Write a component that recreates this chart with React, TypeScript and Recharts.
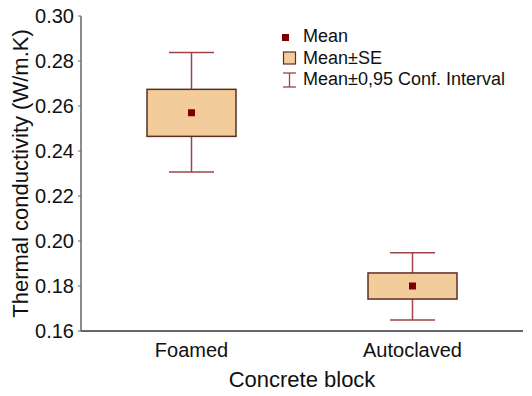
import React from 'react';
import { ComposedChart, Bar, Scatter, XAxis, YAxis, Legend } from 'recharts';

const categories = ['Foamed', 'Autoclaved'];
const means = [0.257, 0.18];
const seLow = [0.2465, 0.1742];
const seHigh = [0.2674, 0.1858];
const ciLow = [0.2307, 0.1649];
const ciHigh = [0.2838, 0.1948];
const yTicks = [0.16, 0.18, 0.2, 0.22, 0.24, 0.26, 0.28, 0.3];
const legendLabels = ['Mean', 'Mean±SE', 'Mean±0,95 Conf. Interval'];

const data = categories.map((c, i) => ({
  category: c,
  mean: means[i],
  se: [seLow[i], seHigh[i]],
  ci: [ciLow[i], ciHigh[i]],
}));

const FONT = '"Liberation Sans", Arial, sans-serif';
const BOX_FILL = '#f2cd9b';
const BOX_STROKE = '#5c2e22';
const WHISKER = '#9e4444';
const MEAN = '#7a0000';
const FRAME = '#666';
const TEXT = '#111';

const Whisker = (props: any) => {
  const { x, y, width, height } = props;
  const top = Math.min(y, y + height);
  const bot = Math.max(y, y + height);
  const cx = x + width / 2;
  return (
    <g stroke={WHISKER} strokeWidth={1.5}>
      <line x1={cx} y1={top} x2={cx} y2={bot} />
      <line x1={x} y1={top} x2={x + width} y2={top} />
      <line x1={x} y1={bot} x2={x + width} y2={bot} />
    </g>
  );
};

const SeBox = (props: any) => {
  const { x, y, width, height } = props;
  const top = Math.min(y, y + height);
  const h = Math.abs(height);
  return <rect x={x} y={top} width={width} height={h} fill={BOX_FILL} stroke={BOX_STROKE} strokeWidth={1.5} />;
};

const MeanMarker = (props: any) => (
  <rect x={props.cx - 3.5} y={props.cy - 3.5} width={7} height={7} fill={MEAN} />
);

const LegendContent = () => {
  const icons = [
    <svg width={18} height={18} key="m"><rect x={2} y={6} width={7} height={7} fill={MEAN} /></svg>,
    <svg width={18} height={18} key="s"><rect x={3.5} y={3} width={12} height={12} fill={BOX_FILL} stroke={BOX_STROKE} strokeWidth={1.2} /></svg>,
    <svg width={18} height={18} key="c"><g stroke={WHISKER} strokeWidth={1.3}><line x1={3} y1={2} x2={16} y2={2} /><line x1={9.5} y1={2} x2={9.5} y2={16} /><line x1={3} y1={16} x2={16} y2={16} /></g></svg>,
  ];
  return (
    <div style={{ fontFamily: FONT, fontSize: 18, color: TEXT }}>
      {legendLabels.map((l, i) => (
        <div key={l} style={{ display: 'flex', alignItems: 'center', height: 21.5, whiteSpace: 'nowrap' }}>
          <span style={{ display: 'inline-block', width: 18, height: 18, marginRight: 5 }}>{icons[i]}</span>
          <span>{l}</span>
        </div>
      ))}
    </div>
  );
};

export default function App() {
  return (
    <div style={{ position: 'absolute', left: 0, top: 0, fontFamily: FONT, background: '#fff' }}>
      <ComposedChart
        width={532}
        height={396}
        data={data}
        margin={{ top: 16, right: 9, bottom: 0, left: 0 }}
        barCategoryGap={0}
      >
        <XAxis
          xAxisId="main"
          dataKey="category"
          type="category"
          height={65}
          tickSize={0}
          tickMargin={12}
          axisLine={{ stroke: FRAME, strokeWidth: 2 }}
          tick={{ fontSize: 20, fill: TEXT, fontFamily: FONT }}
          label={{ value: 'Concrete block', position: 'insideBottom', offset: 9, fontSize: 22, fill: TEXT, fontFamily: FONT }}
        />
        <XAxis
          xAxisId="top"
          dataKey="category"
          type="category"
          orientation="top"
          height={0}
          tick={false}
          tickLine={false}
          axisLine={{ stroke: FRAME, strokeWidth: 1.5 }}
        />
        <YAxis
          yAxisId="left"
          domain={[0.16, 0.3]}
          ticks={yTicks}
          type="number"
          allowDataOverflow
          width={81}
          tickSize={3}
          tickMargin={4}
          tickFormatter={(v: number) => v.toFixed(2)}
          axisLine={{ stroke: FRAME, strokeWidth: 1.5 }}
          tickLine={{ stroke: FRAME }}
          tick={{ fontSize: 20, fill: TEXT, fontFamily: FONT }}
          label={{ value: 'Thermal conductivity (W/m.K)', angle: -90, position: 'center', dx: -20, fontSize: 22, fill: TEXT, fontFamily: FONT }}
        />
        <YAxis
          yAxisId="right"
          orientation="right"
          domain={[0.16, 0.3]}
          ticks={yTicks}
          type="number"
          width={0}
          mirror
          tickSize={3}
          tick={false}
          axisLine={{ stroke: FRAME, strokeWidth: 1.5 }}
          tickLine={{ stroke: FRAME }}
        />
        <Legend
          layout="vertical"
          align="center"
          verticalAlign="middle"
          content={<LegendContent />}
          wrapperStyle={{ top: 26, left: 280, width: 250 }}
        />
        <Bar xAxisId="main" yAxisId="left" dataKey="ci" barSize={45} shape={<Whisker />} isAnimationActive={false} legendType="none" />
        <Bar xAxisId="top" yAxisId="left" dataKey="se" barSize={89} shape={<SeBox />} isAnimationActive={false} legendType="none" />
        <Scatter xAxisId="main" yAxisId="left" dataKey="mean" shape={<MeanMarker />} isAnimationActive={false} legendType="none" />
      </ComposedChart>
    </div>
  );
}
